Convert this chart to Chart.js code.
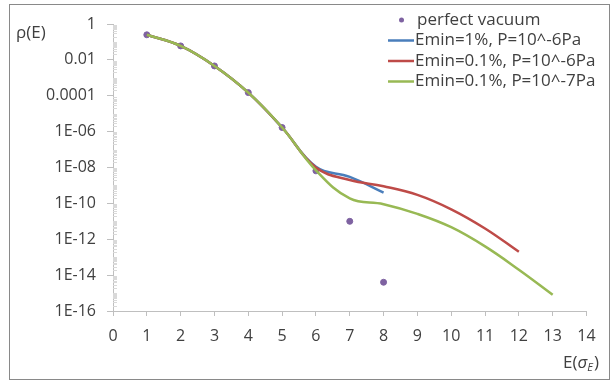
<!DOCTYPE html>
<html>
<head>
<meta charset="utf-8">
<script src="https://cdn.jsdelivr.net/npm/chart.js@4.4.1/dist/chart.umd.min.js"></script>
<style>
    html, body { margin: 0; padding: 0; background: #fff; }
    #wrap { width: 611px; height: 383px; }
</style>
</head>
<body>
<div id="wrap"><canvas id="c" width="611" height="383"></canvas></div>
<script>
// values
const vacuumX = [1, 2, 3, 4, 5, 6, 7, 8];
const vacuumY = [0.25, 0.06, 0.0046, 1.5e-4, 1.7e-6, 6.5e-9, 1e-11, 4e-15];

const emin1X = [1, 2, 3, 4, 5, 6, 7, 8];
const emin1Y = [0.25, 0.06, 0.0046, 1.5e-4, 1.7e-6, 1.1e-8, 3e-9, 4e-10];

const emin01X = [1, 2, 3, 4, 5, 6, 7, 8, 9, 10, 11, 12];
const emin01Y = [0.25, 0.06, 0.0046, 1.5e-4, 1.7e-6, 1e-8, 2e-9, 9e-10, 3e-10, 4.7e-11, 4e-12, 2e-13];

const emin01p7X = [1, 2, 3, 4, 5, 6, 7, 8, 9, 10, 11, 12, 13];
const emin01p7Y = [0.25, 0.06, 0.0046, 1.5e-4, 1.7e-6, 7e-9, 1.9e-10, 9e-11, 2.6e-11, 4.7e-12, 4e-13, 2e-14, 8e-16];

const seriesNames = ['perfect vacuum', 'Emin=1%, P=10^-6Pa', 'Emin=0.1%, P=10^-6Pa', 'Emin=0.1%, P=10^-7Pa'];
const yTickValues = [1, 1e-2, 1e-4, 1e-6, 1e-8, 1e-10, 1e-12, 1e-14, 1e-16];
const yTickLabels = ['1', '0.01', '0.0001', '1E-06', '1E-08', '1E-10', '1E-12', '1E-14', '1E-16'];
const minorSteps = [2, 3, 4, 5, 6, 7, 8, 9, 10, 20, 30, 40, 50, 60, 70, 80, 90];

const FONT = '"Open Sans", sans-serif';
const TEXT = '#404040';
const AXIS = '#bfbfbf';
const COLORS = ['#7e62a1', '#4a7ebb', '#be4b48', '#98b954'];

function pts(xs, ys) {
    return xs.map((x, i) => ({ x, y: ys[i] }));
}

const decor = {
    id: 'decor',
    afterDraw(chart) {
        const { ctx, scales } = chart;
        const y = scales.y, x = scales.x;
        ctx.save();

        // minor ticks on the log axis (base 100 intervals)
        ctx.strokeStyle = '#d9d9d9';
        ctx.lineWidth = 1;
        for (let n = -8; n < 0; n++) {
            for (const k of minorSteps) {
                const py = Math.round(y.getPixelForValue(Math.pow(100, n) * k)) + 0.5;
                ctx.beginPath();
                ctx.moveTo(x.left, py);
                ctx.lineTo(x.left + 4, py);
                ctx.stroke();
            }
        }

        // chart frame
        ctx.strokeStyle = '#898989';
        ctx.strokeRect(9.5, 4.5, 600, 375);

        // axis titles
        ctx.fillStyle = TEXT;
        ctx.textBaseline = 'middle';
        ctx.textAlign = 'left';
        ctx.font = '17px ' + FONT;
        ctx.fillText('\u03c1(E)', 16, 33);

        let tx = 563;
        const ty = 363;
        ctx.fillText('E(', tx, ty);
        tx += ctx.measureText('E(').width;
        ctx.font = 'italic 17px ' + FONT;
        ctx.fillText('\u03c3', tx, ty);
        tx += ctx.measureText('\u03c3').width;
        ctx.font = 'italic 11px ' + FONT;
        ctx.fillText('E', tx, ty + 5);
        tx += ctx.measureText('E').width + 1;
        ctx.font = '17px ' + FONT;
        ctx.fillText(')', tx, ty);

        // legend
        const rows = [20, 40.5, 61, 81.5];
        ctx.font = '17px ' + FONT;
        seriesNames.forEach((name, i) => {
            const ry = rows[i];
            ctx.fillStyle = COLORS[i];
            ctx.strokeStyle = COLORS[i];
            if (i === 0) {
                ctx.beginPath();
                ctx.arc(401.5, ry, 2.5, 0, Math.PI * 2);
                ctx.fill();
                ctx.fillStyle = TEXT;
                ctx.fillText(name, 417, ry);
            } else {
                ctx.lineWidth = 2.5;
                ctx.beginPath();
                ctx.moveTo(388, ry);
                ctx.lineTo(414, ry);
                ctx.stroke();
                ctx.fillStyle = TEXT;
                ctx.fillText(name, 415, ry);
            }
        });
        ctx.restore();
    },
};

const lineDefaults = {
    showLine: true,
    pointRadius: 0,
    borderWidth: 2.5,
    tension: 0.4,
    fill: false,
};

new Chart(document.getElementById('c'), {
    type: 'scatter',
    data: {
        datasets: [
            {
                label: seriesNames[0], data: pts(vacuumX, vacuumY),
                backgroundColor: COLORS[0], borderColor: COLORS[0],
                pointRadius: 3, showLine: false, order: 4,
            },
            {
                ...lineDefaults, label: seriesNames[1], data: pts(emin1X, emin1Y),
                borderColor: COLORS[1], order: 3,
            },
            {
                ...lineDefaults, label: seriesNames[2], data: pts(emin01X, emin01Y),
                borderColor: COLORS[2], order: 2,
            },
            {
                ...lineDefaults, label: seriesNames[3], data: pts(emin01p7X, emin01p7Y),
                borderColor: COLORS[3], order: 1,
            },
        ],
    },
    options: {
        responsive: false,
        animation: false,
        devicePixelRatio: 1,
        layout: { padding: { top: 24, right: 24.5, left: 0, bottom: 0 } },
        plugins: { legend: { display: false }, tooltip: { enabled: false } },
        scales: {
            x: {
                type: 'linear', min: 0, max: 14,
                afterFit: s => { s.height = 72; },
                grid: { drawOnChartArea: false, color: AXIS, tickLength: 5 },
                border: { color: AXIS },
                ticks: { stepSize: 1, color: TEXT, font: { family: FONT, size: 16 }, padding: 11, maxRotation: 0 },
            },
            y: {
                type: 'logarithmic', min: 1e-16, max: 1,
                afterFit: s => { s.width = 113; },
                afterBuildTicks: s => { s.ticks = yTickValues.map(v => ({ value: v })); },
                grid: { drawOnChartArea: false, color: AXIS, tickLength: 6 },
                border: { color: AXIS },
                ticks: {
                    color: TEXT, font: { family: FONT, size: 16 }, padding: 11,
                    callback: v => yTickLabels[yTickValues.findIndex(t => Math.abs(Math.log10(t) - Math.log10(v)) < 1e-6)] ?? '',
                },
            },
        },
    },
    plugins: [decor],
});
</script>
</body>
</html>
